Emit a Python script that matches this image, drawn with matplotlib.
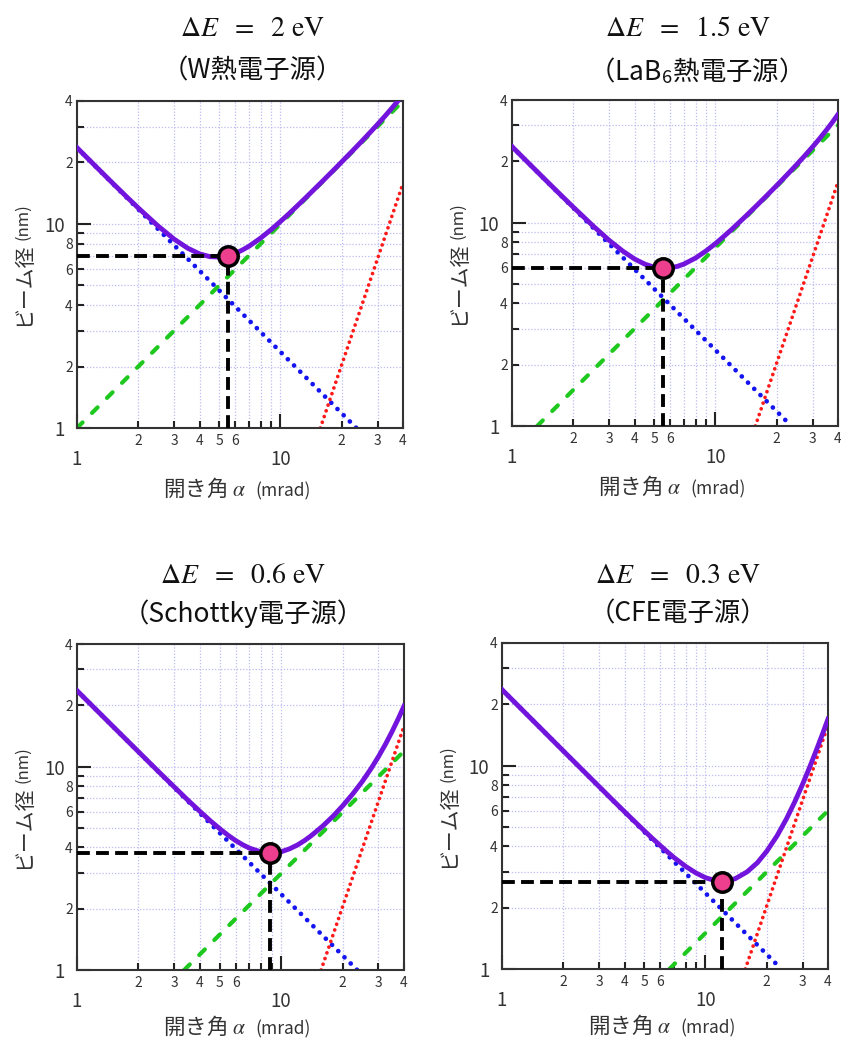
import matplotlib
matplotlib.use('Agg')
import matplotlib.pyplot as plt
from matplotlib.ticker import FixedLocator, FixedFormatter

plt.rcParams['font.family'] = ['Noto Sans CJK JP', 'DejaVu Sans']
plt.rcParams['mathtext.fontset'] = 'stix'

# ---------------- data ----------------
alpha = [1, 1.25, 1.5, 1.75, 2, 2.5, 3, 3.5, 4, 4.5, 5, 5.5, 6, 6.5, 7, 8, 9, 10,
         11, 12, 13, 14, 16, 18, 20, 22.5, 25, 27.5, 30, 32.5, 35, 37.5, 40]
total_W = [23.62, 18.92, 15.80, 13.60, 11.97, 9.77, 8.42, 7.60, 7.13, 6.91, 6.88,
           6.98, 7.17, 7.45, 7.77, 8.53, 9.38, 10.28, 11.21, 12.17, 13.14, 14.12,
           16.10, 18.10, 20.13, 22.70, 25.31, 27.99, 30.74, 33.59, 36.57, 39.70, 43.01]
total_LaB6 = [23.61, 18.90, 15.77, 13.55, 11.90, 9.63, 8.18, 7.24, 6.62, 6.24, 6.03,
              5.96, 5.99, 6.09, 6.25, 6.70, 7.26, 7.88, 8.55, 9.24, 9.96, 10.68,
              12.16, 13.67, 15.21, 17.18, 19.21, 21.32, 23.53, 25.87, 28.37, 31.06, 33.98]
total_Schottky = [23.60, 18.88, 15.74, 13.50, 11.82, 9.47, 7.92, 6.82, 6.02, 5.41, 4.95,
                  4.59, 4.32, 4.12, 3.97, 3.80, 3.76, 3.81, 3.94, 4.11, 4.32, 4.56,
                  5.10, 5.71, 6.40, 7.36, 8.45, 9.72, 11.19, 12.90, 14.89, 17.18, 19.81]
total_CFE = [23.60, 18.88, 15.74, 13.49, 11.80, 9.45, 7.88, 6.76, 5.93, 5.29, 4.78,
             4.37, 4.04, 3.76, 3.53, 3.19, 2.96, 2.81, 2.73, 2.70, 2.72, 2.78,
             3.00, 3.33, 3.79, 4.52, 5.47, 6.65, 8.09, 9.81, 11.84, 14.20, 16.92]

# straight component lines (end points)
blue_alpha = [1, 23.6]
blue_d = [23.6, 1]
red_alpha = [15.7, 40]
red_d = [1, 15.8]
green_alpha = [[1, 40], [1.33, 40], [3.35, 40], [6.65, 40]]
green_d = [[1, 40], [1, 30.1], [1, 11.9], [1, 6.0]]

# optimum points
opt_alpha = [5.5, 5.55, 8.8, 12.1]
opt_d = [7.0, 5.95, 3.77, 2.68]

dE_values = ['2', '1.5', '0.6', '0.3']
sources = ['（W熱電子源）', '（LaB$_\\mathregular{6}$熱電子源）',
           '（Schottky電子源）', '（CFE電子源）']
totals = [total_W, total_LaB6, total_Schottky, total_CFE]

major_ticks = [1, 10]
major_labels = ['1', '10']
minor_ticks = [2, 3, 4, 5, 6, 7, 8, 9, 20, 30, 40]
x_minor_labels = ['2', '3', '4', '5', '6', '', '', '', '2', '3', '4']
y_minor_labels = ['2', '', '4', '', '6', '', '8', '', '2', '', '4']

# ---------------- layout ----------------
W, H = 841, 1040
fig = plt.figure(figsize=(W / 100, H / 100), dpi=100)
fig.patch.set_facecolor('white')

boxes = [(77, 101, 403, 428), (512, 100, 838, 426),
         (77, 644, 404, 970), (502, 643, 828, 969)]
title_x = [252, 688, 243, 678]
title_y1 = [28, 28, 575, 575]
title_y2 = [71, 71, 614, 614]
xlabel_off = [68, 68, 64, 64]

txt_col = '#333333'

for i in range(4):
    x0, y0, x1, y1 = boxes[i]
    ax = fig.add_axes([x0 / W, 1 - y1 / H, (x1 - x0) / W, (y1 - y0) / H])
    ax.set_xscale('log')
    ax.set_yscale('log')
    ax.set_xlim(1, 40)
    ax.set_ylim(1, 40)

    ax.xaxis.set_major_locator(FixedLocator(major_ticks))
    ax.xaxis.set_major_formatter(FixedFormatter(major_labels))
    ax.xaxis.set_minor_locator(FixedLocator(minor_ticks))
    ax.xaxis.set_minor_formatter(FixedFormatter(x_minor_labels))
    ax.yaxis.set_major_locator(FixedLocator(major_ticks))
    ax.yaxis.set_major_formatter(FixedFormatter(major_labels))
    ax.yaxis.set_minor_locator(FixedLocator(minor_ticks))
    ax.yaxis.set_minor_formatter(FixedFormatter(y_minor_labels))

    ax.tick_params(which='both', direction='in', top=False, right=False,
                   color='#222222', labelcolor=txt_col)
    ax.tick_params(which='major', length=10, width=1.5, labelsize=13.5)
    ax.tick_params(which='minor', length=5, width=1.5, labelsize=10)
    ax.tick_params(axis='x', which='major', pad=15)
    ax.tick_params(axis='x', which='minor', pad=4)
    ax.tick_params(axis='y', which='major', pad=9)
    ax.tick_params(axis='y', which='minor', pad=3)

    ax.grid(True, which='both', color='#bcbcf2', linestyle=(0, (1, 1.5)), linewidth=0.9)
    ax.set_axisbelow(True)
    for s in ax.spines.values():
        s.set_color('#333333')
        s.set_linewidth(1.5)

    ax.plot(green_alpha[i], green_d[i], color='#1ec81e', lw=3.0,
            ls=(0, (1.9, 3.2)), dash_capstyle='round', zorder=2)
    ax.plot(blue_alpha, blue_d, color='#1414f0', lw=3.4,
            ls=(0, (0.01, 1.85)), dash_capstyle='round', zorder=2.1)
    ax.plot(red_alpha, red_d, color='#ff1a1a', lw=2.7,
            ls=(0, (0.01, 1.6)), dash_capstyle='round', zorder=2.2)
    ax.plot(alpha, totals[i], color='#7214dc', lw=3.5, zorder=3,
            solid_joinstyle='round')

    ma, md = opt_alpha[i], opt_d[i]
    ax.plot([1, ma], [md, md], color='k', lw=2.8, ls=(0, (3.3, 1.6)), zorder=4)
    ax.plot([ma, ma], [1, md], color='k', lw=2.8, ls=(0, (3.3, 1.6)), zorder=4)
    ax.plot([ma], [md], 'o', ms=14, mfc='#ee3f8f', mec='k', mew=2.5,
            zorder=5, clip_on=False)

    # titles
    fig.text(title_x[i] / W, 1 - title_y1[i] / H,
             r'$\Delta E\ \ =\ \ %s\ \mathrm{eV}$' % dE_values[i],
             ha='center', va='center', fontsize=20, color='#111111')
    fig.text(title_x[i] / W, 1 - title_y2[i] / H, sources[i],
             ha='center', va='center', fontsize=19, color='#111111')

    # y label
    cx = x0 - 54
    cy = (y0 + y1) / 2
    fig.text(cx / W, 1 - (cy + 62) / H, 'ビーム径', rotation=90,
             ha='center', va='bottom', fontsize=15, color=txt_col)
    fig.text(cx / W, 1 - (cy - 24) / H, '(nm)', rotation=90,
             ha='center', va='bottom', fontsize=12, color=txt_col)

    # x label
    xc = (x0 + x1) / 2
    by = y1 + xlabel_off[i]
    fig.text((xc + 6) / W, 1 - by / H, '開き角 $\\alpha$', ha='right',
             va='baseline', fontsize=15.5, color=txt_col)
    fig.text((xc + 15) / W, 1 - by / H, '(mrad)', ha='left',
             va='baseline', fontsize=12.5, color=txt_col)

fig.savefig('out.png', dpi=100, facecolor='white')
